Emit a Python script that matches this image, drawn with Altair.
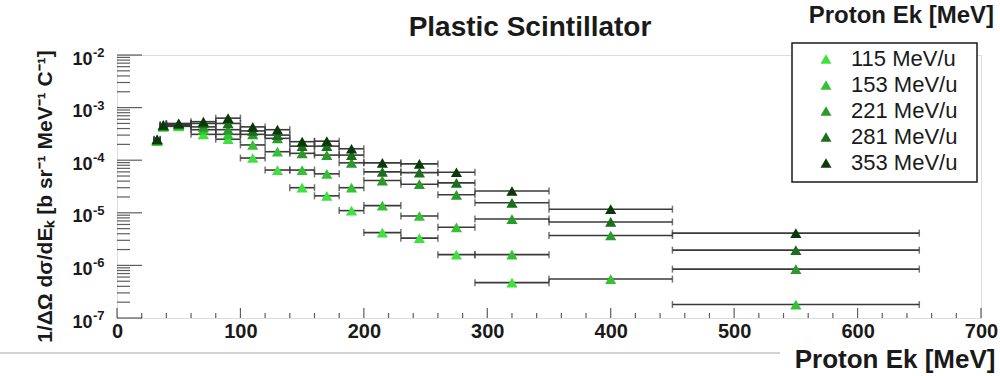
import altair as alt
import pandas as pd

# Beam energies (legend order) and their marker colours
beams = ["115 MeV/u", "153 MeV/u", "221 MeV/u", "281 MeV/u", "353 MeV/u"]
beam_colors = ["#3fe03f", "#34c234", "#2a9a2a", "#1b6e1b", "#0a3a0a"]

# Proton kinetic-energy bins [MeV]
ek_center = [32.5, 37.5, 50, 70, 90, 110, 130, 150, 170, 190, 215, 245, 275, 320, 400, 550]
ek_low = [30, 35, 40, 60, 80, 100, 120, 140, 160, 180, 200, 230, 260, 290, 350, 450]
ek_high = [35, 40, 60, 80, 100, 120, 140, 160, 180, 200, 230, 260, 290, 350, 450, 650]

# 1/dOmega dsigma/dEk [b sr^-1 MeV^-1 C^-1] per beam energy (None = no entry)
yield_115 = [2.3e-4, 4.3e-4, 4.4e-4, 3.1e-4, 2.5e-4, 1.1e-4, 6.5e-5, 3.0e-5, 2.1e-5, 1.1e-5,
             4.2e-6, 3.3e-6, 1.6e-6, 4.7e-7, None, None]
yield_153 = [2.35e-4, 4.4e-4, 4.6e-4, 3.8e-4, 3.1e-4, 1.95e-4, 1.45e-4, 6.5e-5, 5.5e-5, 3.0e-5,
             1.37e-5, 8.7e-6, 5.3e-6, 1.6e-6, 5.5e-7, 1.8e-7]
yield_221 = [2.4e-4, 4.5e-4, 4.8e-4, 4.3e-4, 3.8e-4, 3.1e-4, 2.6e-4, 1.35e-4, 1.25e-4, 8.9e-5,
             4.1e-5, 3.5e-5, 2.2e-5, 7.6e-6, 3.7e-6, 8.5e-7]
yield_281 = [2.45e-4, 4.6e-4, 4.9e-4, 5.0e-4, 5.0e-4, 3.6e-4, 3.0e-4, 1.85e-4, 1.85e-4, 1.25e-4,
             6.0e-5, 5.8e-5, 3.7e-5, 1.55e-5, 6.7e-6, 1.95e-6]
yield_353 = [2.5e-4, 4.7e-4, 5.0e-4, 5.4e-4, 6.3e-4, 4.3e-4, 3.8e-4, 2.25e-4, 2.3e-4, 1.65e-4,
             8.9e-5, 8.5e-5, 5.9e-5, 2.6e-5, 1.17e-5, 4.1e-6]

# Axis ticks
x_major = [0, 100, 200, 300, 400, 500, 600, 700]
x_minor = [v for v in range(0, 701, 20) if v % 100 != 0]
y_major = [1e-7, 1e-6, 1e-5, 1e-4, 1e-3, 1e-2]
y_exponents = ["-7", "-6", "-5", "-4", "-3", "-2"]
y_minor = [m * 10.0 ** k for k in range(-7, -2) for m in range(2, 10)]

title_text = "Plastic Scintillator"
x_title = "Proton Ek [MeV]"
y_title = "1/ΔΩ dσ/dEₖ [b sr⁻¹ MeV⁻¹ C⁻¹]"

FONT = "Liberation Sans"
INK = "#1a1a1a"
W, H = 864, 263

rows = []
for name, series in zip(beams, [yield_115, yield_153, yield_221, yield_281, yield_353]):
    for c, lo, hi, v in zip(ek_center, ek_low, ek_high, series):
        if v is None:
            continue
        rows.append({"beam": name, "ek": c, "lo": lo, "hi": hi, "val": v})
df = pd.DataFrame(rows)

xs = alt.Scale(domain=[0, 700], nice=False, zero=False)
ys = alt.Scale(type="log", domain=[1e-7, 1e-2], nice=False)

x_axis = alt.Axis(values=x_major, format="d", domain=False, ticks=False, grid=False,
                  labelFont=FONT, labelFontSize=20, labelFontWeight="bold", labelColor=INK,
                  labelPadding=3, labelFlush=False, labelOverlap=False,
                  title=x_title, titleFont=FONT, titleFontSize=26, titleFontWeight="bold",
                  titleColor=INK, titleX=878, titleY=49, titleAlign="right",
                  titleBaseline="alphabetic")
y_axis = alt.Axis(values=y_major, labelExpr="'10'", domain=False, ticks=False, grid=False,
                  labelFont=FONT, labelFontSize=18, labelFontWeight="bold", labelColor=INK,
                  labelPadding=25, labelOffset=4, labelFlush=False, labelOverlap=False,
                  title=y_title, titleFont=FONT, titleFontSize=21, titleFontWeight="bold",
                  titleColor=INK, titleX=-72, titleY=141, titleAngle=270,
                  titleAlign="center", titleBaseline="middle")


def X(field):
    return alt.X(field, scale=xs, axis=x_axis)


def Y(field):
    return alt.Y(field, scale=ys, axis=y_axis)


# Horizontal bin-width error bars with end caps
bars = alt.Chart(df).mark_rule(color="#3a3a3a", strokeWidth=1.6).encode(
    x=X("lo:Q"), x2="hi:Q", y=Y("val:Q"))
caps_lo = alt.Chart(df).mark_tick(orient="vertical", size=7, thickness=1.5, color="#3a3a3a").encode(
    x=X("lo:Q"), y=Y("val:Q"))
caps_hi = alt.Chart(df).mark_tick(orient="vertical", size=7, thickness=1.5, color="#3a3a3a").encode(
    x=X("hi:Q"), y=Y("val:Q"))

points = alt.Chart(df).mark_point(shape="triangle-up", filled=True, size=125, opacity=1).encode(
    x=X("ek:Q"), y=Y("val:Q"),
    color=alt.Color("beam:N", scale=alt.Scale(domain=beams, range=beam_colors),
                    legend=alt.Legend(title=None, orient="none", legendX=698, legendY=-7,
                                      symbolType="triangle-up", symbolSize=120,
                                      symbolStrokeWidth=0, labelFont=FONT, labelFontSize=22,
                                      labelColor=INK, labelOffset=14, rowPadding=4,
                                      padding=0, zindex=2)))

# Inward ticks along the frame
xt_major = alt.Chart(pd.DataFrame({"p": x_major})).mark_tick(
    orient="vertical", size=10, thickness=1.2, color=INK).encode(
    x=X("p:Q"), y=alt.value(H - 5))
xt_minor = alt.Chart(pd.DataFrame({"p": x_minor})).mark_tick(
    orient="vertical", size=5, thickness=1.2, color=INK).encode(
    x=X("p:Q"), y=alt.value(H - 2.5))
yt_major = alt.Chart(pd.DataFrame({"p": y_major})).mark_tick(
    orient="horizontal", size=25, thickness=1.2, color=INK).encode(
    y=Y("p:Q"), x=alt.value(12.5))
yt_minor = alt.Chart(pd.DataFrame({"p": y_minor})).mark_tick(
    orient="horizontal", size=13, thickness=1.2, color=INK).encode(
    y=Y("p:Q"), x=alt.value(6.5))

# Exponents of the decade labels
exps = alt.Chart(pd.DataFrame({"p": y_major, "t": y_exponents})).mark_text(
    align="left", baseline="middle", font=FONT, fontSize=13, fontWeight="bold",
    color=INK, dy=-2).encode(
    x=alt.value(-24), y=Y("p:Q"), text="t:N")

legend_box = alt.Chart(pd.DataFrame({"k": [0]})).mark_rect(
    fill="white", stroke=INK, strokeWidth=1.5).encode(
    x=alt.value(675), x2=alt.value(860), y=alt.value(-12), y2=alt.value(127))

# Headline and the top-right energy label
headline = alt.Chart(pd.DataFrame({"t": [title_text]})).mark_text(
    align="center", baseline="alphabetic", font=FONT, fontSize=28, fontWeight="bold",
    color=INK).encode(x=alt.value(413), y=alt.value(-19), text="t:N")

top_label = alt.Chart(pd.DataFrame({"t": [x_title]})).mark_text(
    align="right", baseline="alphabetic", font=FONT, fontSize=24, fontWeight="bold",
    color=INK).encode(x=alt.value(877), y=alt.value(-32), text="t:N")

separator = alt.Chart(pd.DataFrame({"k": [0]})).mark_rule(color="#d4d4d4", strokeWidth=2).encode(
    x=alt.value(-117), x2=alt.value(663), y=alt.value(298))

chart = alt.layer(
    separator, xt_major, xt_minor, yt_major, yt_minor,
    bars, caps_lo, caps_hi, points, exps, legend_box, headline, top_label
).properties(
    width=W, height=H,
    autosize=alt.AutoSizeParams(type="none"),
    padding={"left": 117, "top": 55, "right": 19, "bottom": 58},
).configure_view(stroke=INK, strokeWidth=1.3).configure(background="white")

chart.save("out.html", embed_options={"renderer": "svg", "actions": False})
